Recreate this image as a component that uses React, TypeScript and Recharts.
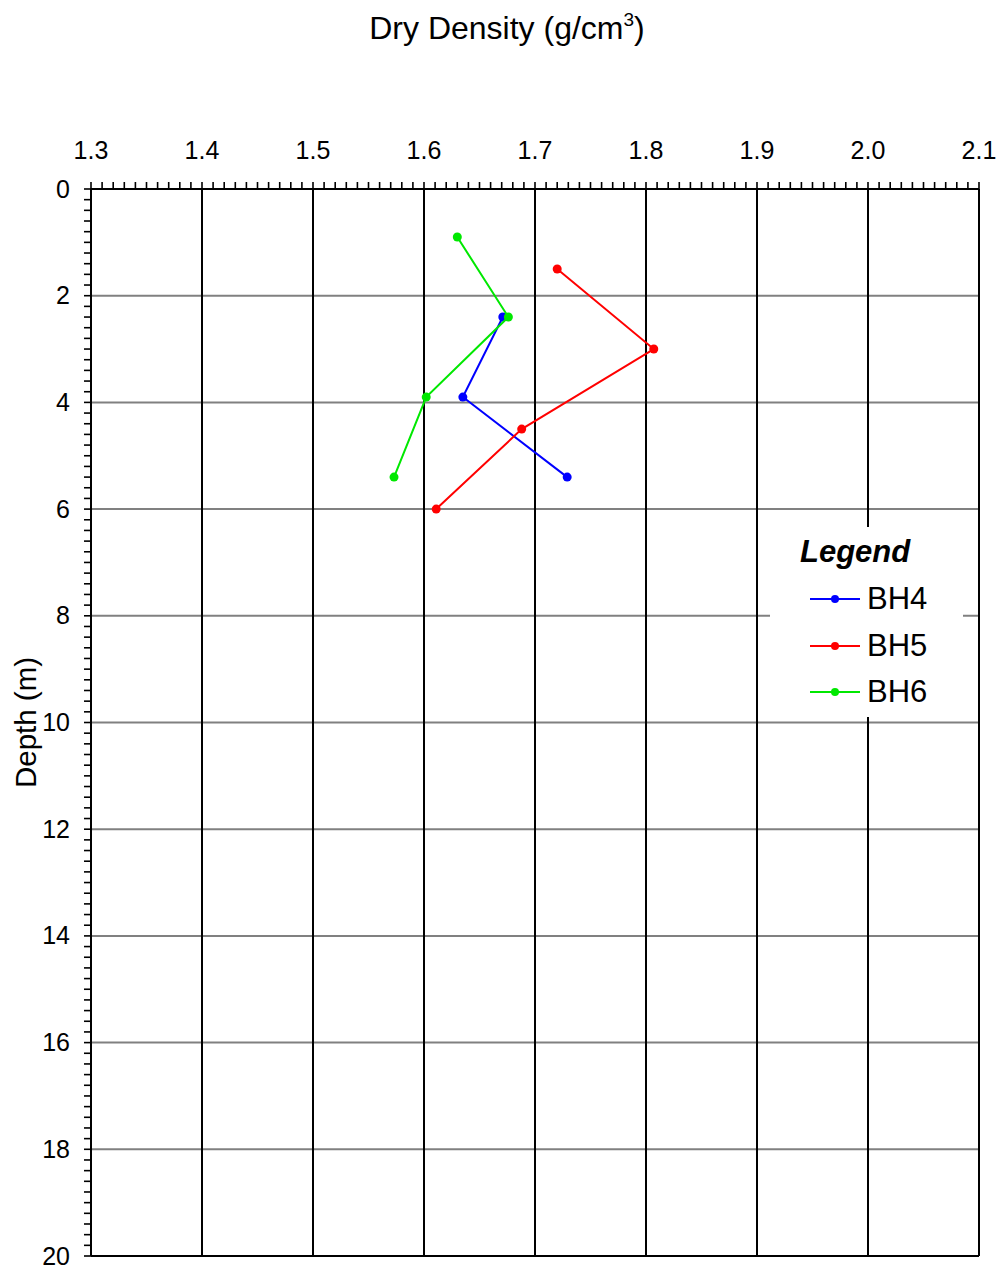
import React from "react";
import {
  ScatterChart,
  Scatter,
  XAxis,
  YAxis,
  ReferenceLine,
  Legend,
} from "recharts";

const FONT = "'Liberation Sans', Arial, sans-serif";

// Major tick labels on both axes
const DENSITY_TICKS = [1.3, 1.4, 1.5, 1.6, 1.7, 1.8, 1.9, 2.0, 2.1];
const DEPTH_TICKS = [0, 2, 4, 6, 8, 10, 12, 14, 16, 18, 20];

// Readings per borehole (depth in m, dry density in g/cm3)
const BH4_DEPTH = [2.4, 3.9, 5.4];
const BH4_DENSITY = [1.671, 1.635, 1.729];
const BH5_DEPTH = [1.5, 3.0, 4.5, 6.0];
const BH5_DENSITY = [1.72, 1.807, 1.688, 1.611];
const BH6_DEPTH = [0.9, 2.4, 3.9, 5.4];
const BH6_DENSITY = [1.63, 1.676, 1.602, 1.573];

const toPoints = (depth: number[], density: number[]) =>
  depth.map((d, i) => ({ x: density[i], y: d }));

const SERIES = [
  { name: "BH4", color: "#0000ff", data: toPoints(BH4_DEPTH, BH4_DENSITY) },
  { name: "BH5", color: "#ff0000", data: toPoints(BH5_DEPTH, BH5_DENSITY) },
  { name: "BH6", color: "#00e800", data: toPoints(BH6_DEPTH, BH6_DENSITY) },
];

// minor ticks: 10 per major interval
const xMinorTicks: number[] = [];
for (let i = 130; i <= 210; i++) xMinorTicks.push(i / 100);
const yMinorTicks: number[] = [];
for (let i = 0; i <= 100; i++) yMinorTicks.push(i / 5);

const isMultiple = (v: number, step: number) =>
  Math.abs(v / step - Math.round(v / step)) < 1e-6;

function DensityTick(props: any) {
  const { x, y, payload } = props;
  const v = payload.value as number;
  return (
    <g>
      <line x1={x} y1={y} x2={x} y2={y - 7} stroke="#000" strokeWidth={1.6} />
      {isMultiple(v, 0.1) && (
        <text x={x} y={y - 30} textAnchor="middle" fontSize={25} fontFamily={FONT} fill="#000">
          {v.toFixed(1)}
        </text>
      )}
    </g>
  );
}

function DepthTick(props: any) {
  const { x, y, payload } = props;
  const v = payload.value as number;
  return (
    <g>
      <line x1={x} y1={y} x2={x - 7} y2={y} stroke="#000" strokeWidth={1.6} />
      {isMultiple(v, 2) && (
        <text x={x - 21} y={y + 8.5} textAnchor="end" fontSize={25} fontFamily={FONT} fill="#000">
          {Math.round(v)}
        </text>
      )}
    </g>
  );
}

function TitleLabel(props: any) {
  const { x, y, width } = props.viewBox;
  return (
    <text x={x + width / 2 - 28} y={y + 39} textAnchor="middle" fontSize={32} fontFamily={FONT} fill="#000">
      Dry Density (g/cm
      <tspan fontSize={19} dy={-13}>3</tspan>
      <tspan dy={13}>)</tspan>
    </text>
  );
}

function DepthLabel(props: any) {
  const { y, height } = props.viewBox;
  const cy = y + height / 2;
  return (
    <text
      x={36}
      y={cy}
      transform={`rotate(-90, 36, ${cy})`}
      textAnchor="middle"
      fontSize={29.5}
      fontFamily={FONT}
      fill="#000"
    >
      Depth (m)
    </text>
  );
}

function LegendBox() {
  return (
    <div style={{ fontFamily: FONT, color: "#000", paddingLeft: 30 }}>
      <div style={{ height: 49, lineHeight: "49px", fontSize: 31, fontWeight: "bold", fontStyle: "italic" }}>
        Legend
      </div>
      {SERIES.map((s) => (
        <div key={s.name} style={{ height: 46.5, display: "flex", alignItems: "center" }}>
          <svg width={57} height={12} style={{ marginLeft: 10 }}>
            <line x1={0} y1={6} x2={50} y2={6} stroke={s.color} strokeWidth={2} />
            <circle cx={25} cy={6} r={4} fill={s.color} />
          </svg>
          <span style={{ fontSize: 31 }}>{s.name}</span>
        </div>
      ))}
    </div>
  );
}

export default function App() {
  return (
    <div style={{ position: "absolute", left: 0, top: 0, width: 999, height: 1268, background: "#fff" }}>
      <ScatterChart width={999} height={1268} margin={{ top: 0, right: 20, bottom: 12, left: 0 }}>
        <XAxis
          type="number"
          dataKey="x"
          orientation="top"
          domain={[1.3, 2.1]}
          ticks={xMinorTicks}
          interval={0}
          height={189}
          tickSize={0}
          tickMargin={0}
          tickLine={false}
          tick={<DensityTick />}
          axisLine={{ stroke: "#000", strokeWidth: 2 }}
          label={{ content: TitleLabel }}
        />
        <YAxis
          type="number"
          dataKey="y"
          reversed
          domain={[0, 20]}
          ticks={yMinorTicks}
          interval={0}
          width={91}
          tickSize={0}
          tickMargin={0}
          tickLine={false}
          tick={<DepthTick />}
          axisLine={{ stroke: "#000", strokeWidth: 2 }}
          label={{ content: DepthLabel }}
        />
        {DEPTH_TICKS.slice(1, -1).map((d) => (
          <ReferenceLine key={`h${d}`} y={d} stroke="#808080" strokeWidth={2} />
        ))}
        {DENSITY_TICKS.slice(1, -1).map((v) => (
          <ReferenceLine key={`v${v}`} x={v} stroke="#000" strokeWidth={2} />
        ))}
        <ReferenceLine y={20} stroke="#000" strokeWidth={2} />
        <ReferenceLine x={2.1} stroke="#000" strokeWidth={2} />
        {SERIES.map((s) => (
          <Scatter
            key={s.name}
            name={s.name}
            data={s.data}
            fill={s.color}
            line={{ stroke: s.color, strokeWidth: 2 }}
            shape={(p: any) => <circle cx={p.cx} cy={p.cy} r={4.5} fill={s.color} />}
            isAnimationActive={false}
          />
        ))}
        <Legend
          layout="horizontal"
          align="center"
          verticalAlign="middle"
          content={() => <LegendBox />}
          wrapperStyle={{
            position: "absolute",
            left: 770,
            top: 527,
            width: 193,
            height: 190,
            background: "#fff",
          }}
        />
      </ScatterChart>
    </div>
  );
}
